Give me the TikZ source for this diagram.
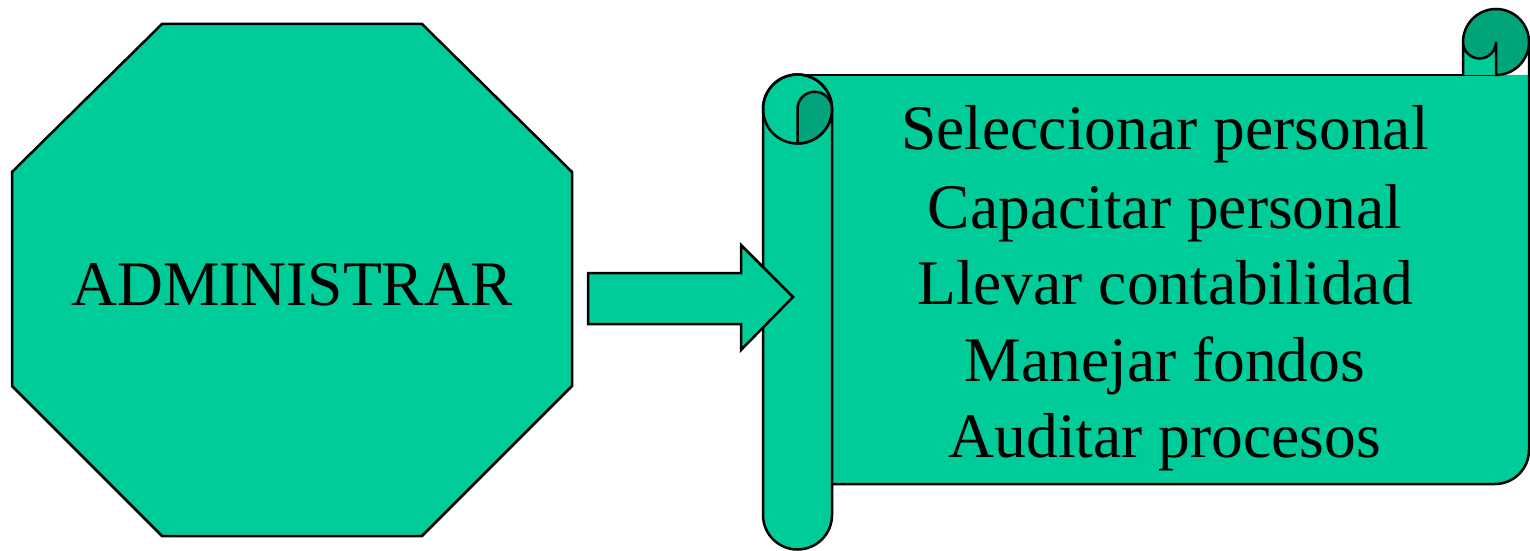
\documentclass[tikz,border=0pt]{standalone}
\usepackage{fontspec}
\setmainfont{Liberation Serif}
\definecolor{scrollgreen}{RGB}{0,204,153}
\definecolor{curlgreen}{RGB}{0,163,122}
\tikzset{
  shapeline/.style={draw=black,line width=2.5pt,line join=miter},
  lightfill/.style={fill=scrollgreen},
  darkfill/.style={fill=curlgreen},
  bigtext/.style={font=\fontsize{63.5}{76}\selectfont,inner sep=0pt,anchor=base,text=black},
}
\begin{document}
\begin{tikzpicture}[x=1pt,y=1pt]
\useasboundingbox (0,0) rectangle (1530,550);
% octagon
\filldraw[shapeline,lightfill] (162,526) -- (422,526) -- (572,378) -- (572,164) -- (422,14) -- (162,14) -- (12,164) -- (12,378) -- cycle;
\node[bigtext] (adm) at (292,245) {ADMINISTRAR};
% scroll body
\fill[lightfill] (797.5,475) -- (1529,475) -- (1529,100) arc[start angle=0,end angle=-90,radius=34pt] -- (797.5,66) -- cycle;
\draw[shapeline] (797.5,475) -- (1496,475);
\draw[shapeline] (1529,508) -- (1529,100) arc[start angle=0,end angle=-90,radius=34pt] -- (832,66);
% top right curl
\fill[darkfill] (1496,508) circle[radius=33pt];
\fill[lightfill] (1463,508) -- (1463,475) -- (1496,475) -- (1496,508) arc[start angle=0,end angle=-180,radius=16.5pt] -- cycle;
\draw[shapeline] (1463,475) -- (1463,508) arc[start angle=180,end angle=-90,radius=33pt] -- (1496,508) arc[start angle=0,end angle=-180,radius=16.5pt];
% left roll
\filldraw[shapeline,lightfill] (763,441) arc[start angle=180,end angle=0,radius=34.5pt] -- (832,35) arc[start angle=0,end angle=-180,radius=34.5pt] -- cycle;
\draw[shapeline] (797.5,441) circle[radius=34.5pt];
\filldraw[shapeline,darkfill] (797.5,406.5) -- (797.5,441) arc[start angle=180,end angle=0,radius=17.25pt] arc[start angle=0,end angle=-90,radius=34.5pt] -- cycle;
% text lines
\node[bigtext] (l1) at (1165,400) {Seleccionar personal};
\node[bigtext] (l2) at (1165,322) {Capacitar personal};
\node[bigtext] (l3) at (1165,246) {Llevar contabilidad};
\node[bigtext] (l4) at (1165,169) {Manejar fondos};
\node[bigtext] (l5) at (1165,93) {Auditar procesos};
% block arrow
\filldraw[shapeline,lightfill] (588,277) -- (741,277) -- (741,305) -- (793,253) -- (741,200) -- (741,226) -- (588,226) -- cycle;
\end{tikzpicture}
\end{document}
